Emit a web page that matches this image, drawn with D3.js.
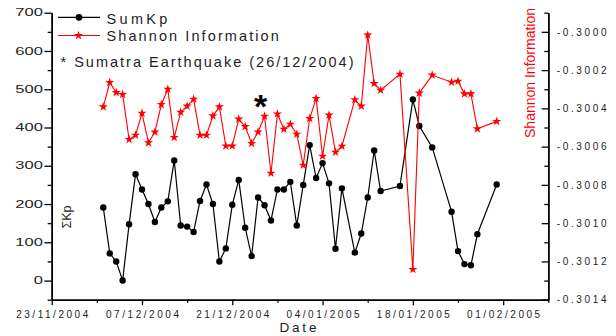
<!DOCTYPE html>
<html>
<head>
<meta charset="utf-8">
<script src="https://cdn.jsdelivr.net/npm/d3@7"></script>
<style>
  html, body { margin: 0; padding: 0; background: #fff; }
  svg { display: block; font-family: "Liberation Sans", Arial, sans-serif; }
</style>
</head>
<body>
<svg id="chart" width="616" height="336"></svg>
<script>
// Daily observations, 1 Dec 2004 – 31 Jan 2005 (missing days skipped)
const dates = [
  "2004-12-01","2004-12-02","2004-12-03","2004-12-04","2004-12-05","2004-12-06","2004-12-07",
  "2004-12-08","2004-12-09","2004-12-10","2004-12-11","2004-12-12","2004-12-13","2004-12-14",
  "2004-12-15","2004-12-16","2004-12-17","2004-12-18","2004-12-19","2004-12-20","2004-12-21",
  "2004-12-22","2004-12-23","2004-12-24","2004-12-25","2004-12-26","2004-12-27","2004-12-28",
  "2004-12-29","2004-12-30","2004-12-31","2005-01-01","2005-01-02","2005-01-03","2005-01-04",
  "2005-01-05","2005-01-06","2005-01-07","2005-01-09","2005-01-10","2005-01-11","2005-01-12",
  "2005-01-13","2005-01-16","2005-01-18","2005-01-19","2005-01-21","2005-01-24","2005-01-25",
  "2005-01-26","2005-01-27","2005-01-28","2005-01-31"
];

// Daily sum of the Kp index
const sumKp = [
  191, 71, 50, 0, 147, 278, 238,
  200, 153, 191, 207, 314, 144, 141,
  127, 208, 251, 200, 50, 84, 198,
  263, 138, 64, 217, 197, 157, 238,
  238, 258, 144, 250, 354, 268, 307,
  254, 83, 241, 73, 123, 217, 340,
  234, 247, 473, 404, 348, 180, 77,
  43, 40, 121, 251
];

// Shannon information of the same days
const shannon = [
  -0.300392, -0.300265, -0.300317, -0.300327, -0.300562, -0.300540, -0.300425,
  -0.300580, -0.300524, -0.300380, -0.300300, -0.300552, -0.300420, -0.300388,
  -0.300352, -0.300540, -0.300540, -0.300439, -0.300392, -0.300596, -0.300596,
  -0.300456, -0.300495, -0.300583, -0.300523, -0.300441, -0.300739, -0.300429,
  -0.300509, -0.300483, -0.300535, -0.300697, -0.300453, -0.300348, -0.300650,
  -0.300435, -0.300629, -0.300598, -0.300355, -0.300388, -0.300017, -0.300270,
  -0.300305, -0.300221, -0.301242, -0.300320, -0.300226, -0.300263, -0.300258,
  -0.300324, -0.300324, -0.300507, -0.300468
];

// Axis ticks
const xDomain = ["2004-11-23", "2005-02-08"];
const xMajor = ["2004-11-23","2004-12-07","2004-12-21","2005-01-04","2005-01-18","2005-02-01"];
const xMinor = ["2004-11-30","2004-12-14","2004-12-28","2005-01-11","2005-01-25","2005-02-08"];
const kpMajor = [0, 100, 200, 300, 400, 500, 600, 700];
const kpMinor = [-50, 50, 150, 250, 350, 450, 550, 650];
const shMajor = [-0.3014, -0.3012, -0.3010, -0.3008, -0.3006, -0.3004, -0.3002, -0.3000];
const shMinor = [-0.3013, -0.3011, -0.3009, -0.3007, -0.3005, -0.3003, -0.3001, -0.2999];

// Earthquake marker
const quakeDate = "2004-12-26";
const quakeLevel = 474;
const quakeLabel = "* Sumatra Earthquake (26/12/2004)";

const parse = d3.utcParse("%Y-%m-%d");
const rows = dates.map((d, i) => ({ date: parse(d), kp: sumKp[i], sh: shannon[i] }));

const svg = d3.select("#chart");
const plotL = 51.7, plotR = 548.3, plotT = 12.7, plotB = 299.7;
const ink = "#1e1e1e";

const x = d3.scaleUtc().domain(xDomain.map(parse)).range([plotL, plotR]);
const yL = d3.scaleLinear().domain([-50, 700]).range([plotB, plotT]);
const yR = d3.scaleLinear().domain([-0.3014, -0.2999]).range([plotB, plotT]);

// Widen a text to the given factor, either by spacing alone or by spacing and glyphs
function spread(sel, f, mode) {
  sel.each(function () {
    const w = this.getComputedTextLength();
    this.setAttribute("textLength", (w * f).toFixed(2));
    this.setAttribute("lengthAdjust", mode || "spacing");
  });
}

function styleAxis(g, size, factor, mode) {
  g.select(".domain").attr("stroke", "#000").attr("stroke-width", 1.5);
  g.selectAll(".tick line").attr("stroke", "#000").attr("stroke-width", 1.3);
  g.selectAll(".tick text").attr("fill", ink).style("font-size", size + "px");
  if (factor) spread(g.selectAll(".tick text"), factor, mode);
}

const fmtSh = d => d3.format(".4f")(d).replace("\u2212", "-");

// Left axis
const gL = svg.append("g").attr("transform", `translate(${plotL},0)`);
gL.call(d3.axisLeft(yL).tickValues(kpMinor).tickSize(4).tickSizeOuter(0).tickFormat(""));
gL.call(g => styleAxis(g, 10));
const gL2 = svg.append("g").attr("transform", `translate(${plotL},0)`);
gL2.call(d3.axisLeft(yL).tickValues(kpMajor).tickSize(7.3).tickSizeOuter(0).tickPadding(1.5).tickFormat(d3.format("d")));
gL2.call(g => styleAxis(g, 10, 1.65, "spacingAndGlyphs"));

// Right axis (ticks pointing inwards)
const gR = svg.append("g").attr("transform", `translate(${plotR},0)`);
gR.call(d3.axisRight(yR).tickValues(shMinor).tickSizeInner(-4).tickSizeOuter(0).tickFormat(""));
gR.call(g => styleAxis(g, 10));
const gR2 = svg.append("g").attr("transform", `translate(${plotR},0)`);
gR2.call(d3.axisRight(yR).tickValues(shMajor).tickSizeInner(-6.6).tickSizeOuter(0).tickPadding(8.4).tickFormat(fmtSh));
gR2.call(g => styleAxis(g, 10, 1.47));

// Bottom axis
const gB = svg.append("g").attr("transform", `translate(0,${plotB})`);
gB.call(d3.axisBottom(x).tickValues(xMinor.map(parse)).tickSize(3).tickSizeOuter(0).tickFormat(""));
gB.call(g => styleAxis(g, 10));
const gB2 = svg.append("g").attr("transform", `translate(0,${plotB})`);
gB2.call(d3.axisBottom(x).tickValues(xMajor.map(parse)).tickSize(5.6).tickSizeOuter(0).tickPadding(5.2)
  .tickFormat(d3.utcFormat("%d/%m/%Y")));
gB2.call(g => styleAxis(g, 10, 1.46));

// Axis titles
const dateTitle = svg.append("text").attr("x", (plotL + plotR) / 2 - 2).attr("y", 332.3)
  .attr("text-anchor", "middle").attr("fill", ink).style("font-size", "13.5px").text("Date");
spread(dateTitle, 1.29);

svg.append("text").attr("transform", "translate(70.5,217) rotate(-90)")
  .attr("text-anchor", "middle").attr("fill", ink).style("font-size", "12.5px").text("\u03A3Kp");

svg.append("text").attr("transform", "translate(534.5,73) rotate(-90)")
  .attr("text-anchor", "middle").attr("fill", "#ff0000").style("font-size", "14px").text("Shannon Information");

// Series
const lineKp = d3.line().x(d => x(d.date)).y(d => yL(d.kp));
const lineSh = d3.line().x(d => x(d.date)).y(d => yR(d.sh));
const star = d3.symbol().type(d3.symbolStar).size(26);

svg.append("path").datum(rows).attr("d", lineKp)
  .attr("fill", "none").attr("stroke", "#000").attr("stroke-width", 1.2);
svg.append("g").selectAll("circle").data(rows).join("circle")
  .attr("cx", d => x(d.date)).attr("cy", d => yL(d.kp)).attr("r", 3.2).attr("fill", "#000");

svg.append("path").datum(rows).attr("d", lineSh)
  .attr("fill", "none").attr("stroke", "#ff0000").attr("stroke-width", 1.1);
svg.append("g").selectAll("path").data(rows).join("path")
  .attr("transform", d => `translate(${x(d.date)},${yR(d.sh)})`)
  .attr("d", star).attr("fill", "#ff0000");

// Earthquake marker
svg.append("text").attr("x", x(parse(quakeDate)) - 4).attr("y", yL(quakeLevel))
  .attr("dy", "0.54em").attr("text-anchor", "middle").attr("fill", "#000")
  .style("font-size", "34px").style("font-weight", "bold").text("*");

// Legend
const legend = svg.append("g");
legend.append("line").attr("x1", 58).attr("x2", 100).attr("y1", 17.3).attr("y2", 17.3)
  .attr("stroke", "#000").attr("stroke-width", 1.2);
legend.append("circle").attr("cx", 79).attr("cy", 17.3).attr("r", 3.4).attr("fill", "#000");
legend.append("line").attr("x1", 58).attr("x2", 100).attr("y1", 35.5).attr("y2", 35.5)
  .attr("stroke", "#ff0000").attr("stroke-width", 1.1);
legend.append("path").attr("transform", "translate(78.5,35.5)").attr("d", star).attr("fill", "#ff0000");

const legendText = [
  { t: "SumKp", x: 106.5, y: 24 },
  { t: "Shannon Information", x: 106.5, y: 41.3 },
  { t: quakeLabel, x: 60.5, y: 66.7 }
];
legend.selectAll("text").data(legendText).join("text")
  .attr("x", d => d.x).attr("y", d => d.y).attr("fill", ink)
  .style("font-size", "14.5px").text(d => d.t)
  .call(s => spread(s, 1.28));
</script>
</body>
</html>
